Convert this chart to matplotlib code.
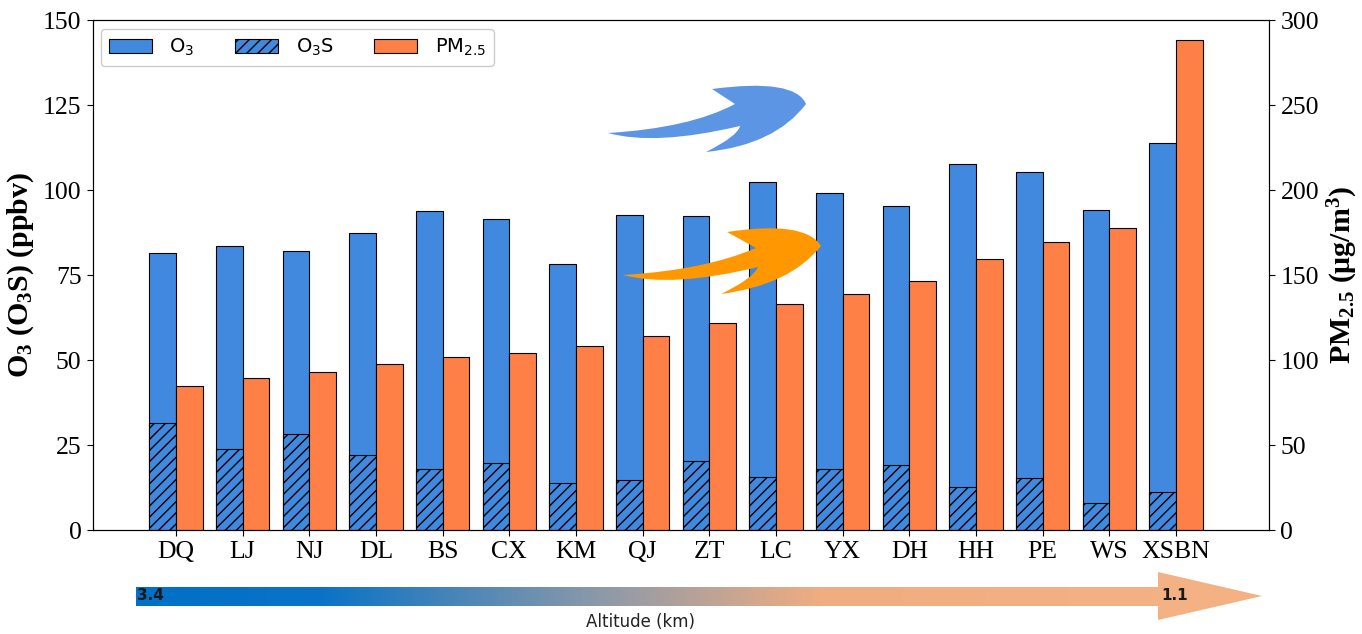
import numpy as np
import matplotlib
matplotlib.use('Agg')
import matplotlib.pyplot as plt
from matplotlib.path import Path
from matplotlib.patches import PathPatch, Polygon
from matplotlib.colors import LinearSegmentedColormap

sites = ['DQ', 'LJ', 'NJ', 'DL', 'BS', 'CX', 'KM', 'QJ',
         'ZT', 'LC', 'YX', 'DH', 'HH', 'PE', 'WS', 'XSBN']
o3 = [81.5, 83.6, 82.1, 87.3, 93.8, 91.5, 78.2, 92.7,
      92.3, 102.5, 99.3, 95.4, 107.7, 105.5, 94.2, 113.9]
o3s = [31.6, 23.8, 28.2, 22.2, 18.1, 19.7, 13.8, 14.8,
       20.2, 15.6, 17.9, 19.0, 12.6, 15.2, 7.9, 11.2]
pm25 = [84.8, 89.2, 93.2, 97.6, 101.7, 104.0, 108.2, 114.1,
        121.7, 133.2, 138.8, 146.8, 159.5, 169.5, 177.5, 288.5]
alt_start, alt_end = '3.4', '1.1'

blue = '#4189df'
orange = '#fe8046'
serif = 'Liberation Serif'

plt.rcParams['mathtext.fontset'] = 'custom'
plt.rcParams['mathtext.rm'] = 'Liberation Serif:bold'
plt.rcParams['mathtext.bf'] = 'Liberation Serif:bold'
plt.rcParams['mathtext.it'] = 'Liberation Serif:bold:italic'
plt.rcParams['hatch.linewidth'] = 1.0

fig = plt.figure(figsize=(13.62, 6.34), dpi=100)
ax = fig.add_axes([0.068, 0.164, 0.864, 0.804])
ax2 = ax.twinx()

x = np.arange(len(sites))
w = 0.4
h1 = ax.bar(x - w / 2, o3, w, color=blue, edgecolor='black', linewidth=0.8, label='O$_3$')
h2 = ax.bar(x - w / 2, o3s, w, color=blue, edgecolor='black', linewidth=0.8,
            hatch='///', label='O$_3$S')
h3 = ax2.bar(x + w / 2, pm25, w, color=orange, edgecolor='black', linewidth=0.8,
             label='PM$_{2.5}$')

ax.set_xlim(-1.25, 16.4)
ax.set_ylim(0, 150)
ax2.set_ylim(0, 300)
ax.set_yticks(np.arange(0, 151, 25))
ax2.set_yticks(np.arange(0, 301, 50))
ax.set_xticks(x)
ax.set_xticklabels(sites)
for a in (ax, ax2):
    a.tick_params(labelsize=18.5, length=4, pad=4)
    for lab in a.get_xticklabels() + a.get_yticklabels():
        lab.set_fontfamily(serif)

ax.set_ylabel('O$_3$ (O$_3$S) (ppbv)', fontsize=21.5, fontweight='bold',
              fontfamily=serif, math_fontfamily='custom', labelpad=5)
ax2.set_ylabel('PM$_{2.5}$ (\u03bcg/m$^3$)', fontsize=21.5, fontweight='bold',
               fontfamily=serif, math_fontfamily='custom', labelpad=5)

leg = ax.legend(handles=[h1, h2, h3], loc='upper left', ncol=3,
                prop={'family': 'DejaVu Sans', 'size': 14, 'math_fontfamily': 'dejavusans'},
                handlelength=2.2, columnspacing=2.1, handletextpad=0.9,
                borderaxespad=0.45, framealpha=1)
leg.get_frame().set_edgecolor('#cccccc')

# overlay in pixel coordinates for the decorative arrows
ov = fig.add_axes([0, 0, 1, 1], zorder=10)
ov.set_xlim(0, 1362)
ov.set_ylim(634, 0)
ov.axis('off')
ov.patch.set_alpha(0)


def swoosh(tail, top, barb_up, head_ctrl, tip, low_ctrl, barb_low, notch_ctrl, notch, back_ctrl,
           upper_ctrl, color):
    verts = [tail, upper_ctrl, top, barb_up, head_ctrl, tip, low_ctrl, barb_low,
             notch_ctrl, notch, back_ctrl, tail, tail]
    codes = [Path.MOVETO, Path.CURVE3, Path.CURVE3, Path.LINETO, Path.CURVE3, Path.CURVE3,
             Path.CURVE3, Path.CURVE3, Path.CURVE3, Path.CURVE3, Path.CURVE3, Path.CURVE3,
             Path.CLOSEPOLY]
    ov.add_patch(PathPatch(Path(verts, codes), facecolor=color, edgecolor='none'))


swoosh(tail=(608, 133), upper_ctrl=(690, 128), top=(735, 104), barb_up=(712, 89),
       head_ctrl=(795, 78), tip=(806, 104), low_ctrl=(775, 145), barb_low=(706, 152),
       notch_ctrl=(738, 136), notch=(740, 126), back_ctrl=(655, 146), color='#5b95e3')
swoosh(tail=(623, 275), upper_ctrl=(705, 270), top=(756, 248), barb_up=(727, 232),
       head_ctrl=(805, 220), tip=(821, 246), low_ctrl=(790, 285), barb_low=(721, 294),
       notch_ctrl=(754, 278), notch=(758, 267), back_ctrl=(672, 288), color='#ff9800')

# altitude arrow with blue-to-peach gradient
arrow_pts = [(136, 587), (1158, 587), (1158, 572), (1262, 596), (1158, 620),
             (1158, 606), (136, 606)]
clip = Polygon(arrow_pts, closed=True, facecolor='none', edgecolor='none')
ov.add_patch(clip)
cmap = LinearSegmentedColormap.from_list(
    'alt', [(0.0, '#0070c8'), (0.18, '#0a73c6'), (0.46, '#8f9aa8'),
            (0.67, '#f0ad81'), (1.0, '#f4b183')])
grad = np.linspace(0, 1, 512).reshape(1, -1)
grad = np.clip(grad * (1262 - 136) / (1158 - 136), 0, 1)
im = ov.imshow(grad, cmap=cmap, extent=(136, 1262, 620, 572), aspect='auto',
               interpolation='bilinear')
im.set_clip_path(clip)
ov.set_xlim(0, 1362)
ov.set_ylim(634, 0)

ov.text(137, 596, alt_start, fontsize=11, fontweight='bold', va='center', ha='left',
        color='#1a1a1a', family='DejaVu Sans')
ov.text(1161, 596, alt_end, fontsize=11, fontweight='bold', va='center', ha='left',
        color='#1a1a1a', family='DejaVu Sans')
ov.text(640, 622, 'Altitude (km)', fontsize=12, va='center', ha='center',
        color='#222222', family='DejaVu Sans')

fig.savefig('out.png', dpi=100)
